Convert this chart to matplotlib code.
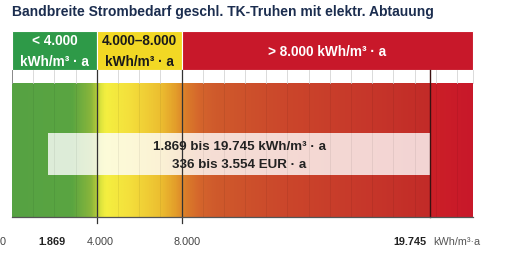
import numpy as np
import matplotlib
matplotlib.use("Agg")
import matplotlib.pyplot as plt
from matplotlib.colors import LinearSegmentedColormap

plt.rcParams['font.family'] = ['Liberation Sans', 'DejaVu Sans']

# Data
title = "Bandbreite Strombedarf geschl. TK-Truhen mit elektr. Abtauung"
class_edges = [0, 4000, 8000, 21750]          # kWh/m³·a
class_labels = ["< 4.000\nkWh/m³ · a", "4.000–8.000\nkWh/m³ · a", "> 8.000 kWh/m³ · a"]
class_colors = ["#2e9a48", "#f2d824", "#c8182a"]
class_text_colors = ["white", "#1a1a1a", "white"]
range_min, range_max = 1869, 19745
cost_min, cost_max = "336", "3.554"
grid_step = 1000
unit = "kWh/m³·a"

# gradient stops (value, colour)
grad_stops = [(0, "#56a243"), (2800, "#5aa541"), (3700, "#8ab63b"), (4000, "#b8cd3a"),
              (4150, "#dde43d"), (4400, "#f4ef40"), (5500, "#f4e03c"), (7000, "#ecbe30"),
              (7700, "#e39e2a"), (8200, "#db7c2a"), (8900, "#d4642c"), (9600, "#cf5a2c"),
              (13000, "#cb462b"), (17000, "#c6362a"), (19740, "#c22b28"), (19760, "#cc2027"),
              (21750, "#c8182a")]

W, H = 506, 255
fig = plt.figure(figsize=(W / 100, H / 100), dpi=100)
ax = fig.add_axes([0, 0, 1, 1])
px = 0.02119  # pixels per kWh unit
x0 = 12
ax.set_xlim(-x0 / px, (W - x0) / px)
ax.set_ylim(H, 0)
ax.axis('off')

xmax = class_edges[-1]

# title
ax.text(0, 12, title, fontsize=10, fontweight='bold', color='#1b2d4f',
        ha='left', va='center')

# header class boxes
for i in range(3):
    a, b = class_edges[i], class_edges[i + 1]
    ax.add_patch(plt.Rectangle((a, 32), b - a, 38.5, facecolor=class_colors[i],
                               edgecolor='white', linewidth=0.8))
    ax.text((a + b) / 2, 51.5, class_labels[i], ha='center', va='center', fontsize=9.8,
            fontweight='bold', color=class_text_colors[i], linespacing=1.55)

# gradient bar
vals = np.array([s[0] for s in grad_stops]) / xmax
cmap = LinearSegmentedColormap.from_list('g', list(zip(vals, [s[1] for s in grad_stops])))
grad = np.linspace(0, 1, 1200).reshape(1, -1)
ax.imshow(grad, cmap=cmap, aspect='auto', extent=[0, xmax, 218, 84], interpolation='bilinear')

# white strip above
ax.add_patch(plt.Rectangle((0, 71), xmax, 13, facecolor='white', edgecolor='none'))

# grid lines
for g in np.arange(grid_step, xmax, grid_step):
    ax.plot([g, g], [71, 84], color='#d4d4d4', lw=0.6)
    ax.plot([g, g], [84, 218], color='black', lw=0.6, alpha=0.07)
ax.plot([0, 0], [71, 84], color='#888888', lw=0.7)
ax.plot([xmax, xmax], [71, 84], color='#d4d4d4', lw=0.6)

# class boundary lines and range marker
for v in class_edges[1:3]:
    ax.plot([v, v], [71, 224], color='#333333', lw=0.9)
ax.plot([range_max, range_max], [71, 218], color='#3a1010', lw=1.0)

# axis line
ax.plot([0, xmax], [218, 218], color='#555555', lw=0.9)

# range box
ax.add_patch(plt.Rectangle((range_min - 160, 134), range_max - range_min + 160, 42,
                           facecolor='white', edgecolor='none', alpha=0.8))
mid = (range_min - 160 + range_max) / 2
ax.text(mid, 147, "1.869 bis 19.745 kWh/m³ · a", ha='center', va='center',
        fontsize=9.6, fontweight='bold', color='#222222')
ax.text(mid, 165, f"{cost_min} bis {cost_max} EUR · a", ha='center', va='center',
        fontsize=9.6, fontweight='bold', color='#222222')

# bottom labels
ly = 242
fs = 7.8
ax.text(0 - 12 / px, ly, "0", ha='left', va='center', fontsize=fs, color='#444444')
ax.text(range_min, ly, "1.869", ha='center', va='center', fontsize=fs, fontweight='bold', color='#222222')
ax.text(4000 + 3 / px, ly, "4.000", ha='center', va='center', fontsize=fs, color='#444444')
ax.text(8000 + 6 / px, ly, "8.000", ha='center', va='center', fontsize=fs, color='#444444')
ax.text(range_max - 4 / px, ly, "19.745", ha='right', va='center', fontsize=fs, fontweight='bold', color='#222222')
ax.text(range_max + 3 / px, ly, unit, ha='left', va='center', fontsize=fs,
        color='#555555')

fig.savefig('out.png', dpi=100)
